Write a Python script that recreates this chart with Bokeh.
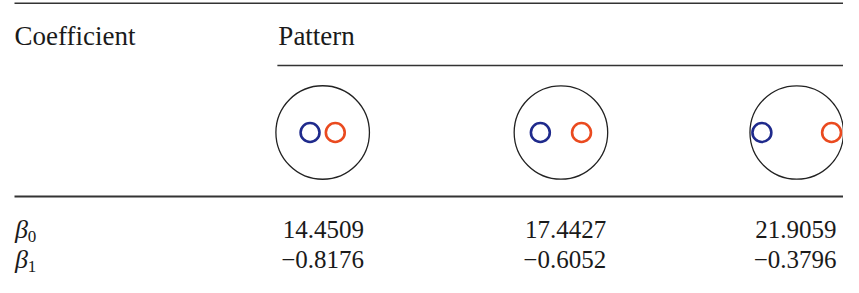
from bokeh.plotting import figure
from bokeh.models import Range1d, ColumnDataSource, LabelSet
from bokeh.embed import file_html
from bokeh.resources import INLINE

# ---- data ----
header_labels = ["Coefficient", "Pattern"]
coef_names = ["β", "β"]
coef_subscripts = ["0", "1"]
beta0_values = ["14.4509", "17.4427", "21.9059"]
beta1_values = ["\u22120.8176", "\u22120.6052", "\u22120.3796"]
# half-distance between the two small circles, as fraction of the big-circle radius
pattern_offsets = [0.27, 0.44, 0.745]

# ---- layout constants (reference pixel space) ----
col_right = [370, 616, 850]
circle_cx = [328, 570, 809.5]
circle_cy = 135
big_r = 47.5
small_r = 9.6
row_base = [240, 270]
FONT = "Liberation Serif"
TXT = "#1a1a1a"
RULE = "#333333"

W, H = 843, 277
left_ref, right_ref = 15.0, 857.0
left_px = 14.0
k = (W - left_px) / (right_ref - left_ref)
x_start = left_ref - left_px / k
x_end = x_start + W / k
top_ref = 3.0

p = figure(width=W, height=H, output_backend="svg", toolbar_location=None,
           x_range=Range1d(x_start, x_end), y_range=Range1d(top_ref + H, top_ref),
           min_border=0, outline_line_color=None, background_fill_color="white",
           border_fill_color="white")
p.axis.visible = False
p.grid.visible = False

# rules
p.segment(x0=[15, 282, 15], y0=[5.8, 68, 199], x1=[857, 857, 857], y1=[5.8, 68, 199],
          line_color=RULE, line_width=[1.6, 1.4, 2.2])


def add_labels(xs, ys, texts, size, align="left", style="normal"):
    src = ColumnDataSource(dict(x=xs, y=ys, t=texts))
    p.add_layout(LabelSet(x="x", y="y", text="t", source=src, text_font=FONT,
                          text_font_size=size, text_font_style=style, text_color=TXT,
                          text_align=align, text_baseline="alphabetic"))


# headers
add_labels([15, 283], [47, 47], header_labels, "27px")
# coefficient names
add_labels([15.5, 15.5], row_base, coef_names, "26px", style="italic")
add_labels([28.5, 28.5], [b + 4 for b in row_base], coef_subscripts, "17px")
# values
add_labels(col_right, [row_base[0]] * 3, beta0_values, "25px", align="right")
add_labels(col_right, [row_base[1]] * 3, beta1_values, "25px", align="right")

# patterns
p.circle(x=circle_cx, y=[circle_cy] * 3, radius=big_r, fill_color=None,
         line_color="#222222", line_width=1.3)
blue_x = [cx - off * big_r for cx, off in zip(circle_cx, pattern_offsets)]
red_x = [cx + off * big_r for cx, off in zip(circle_cx, pattern_offsets)]
p.circle(x=blue_x, y=[circle_cy] * 3, radius=small_r, fill_color=None,
         line_color="#1f2a8c", line_width=2.6)
p.circle(x=red_x, y=[circle_cy] * 3, radius=small_r, fill_color=None,
         line_color="#ea4a1f", line_width=2.6)

open("out.html", "w").write(file_html(p, INLINE))
